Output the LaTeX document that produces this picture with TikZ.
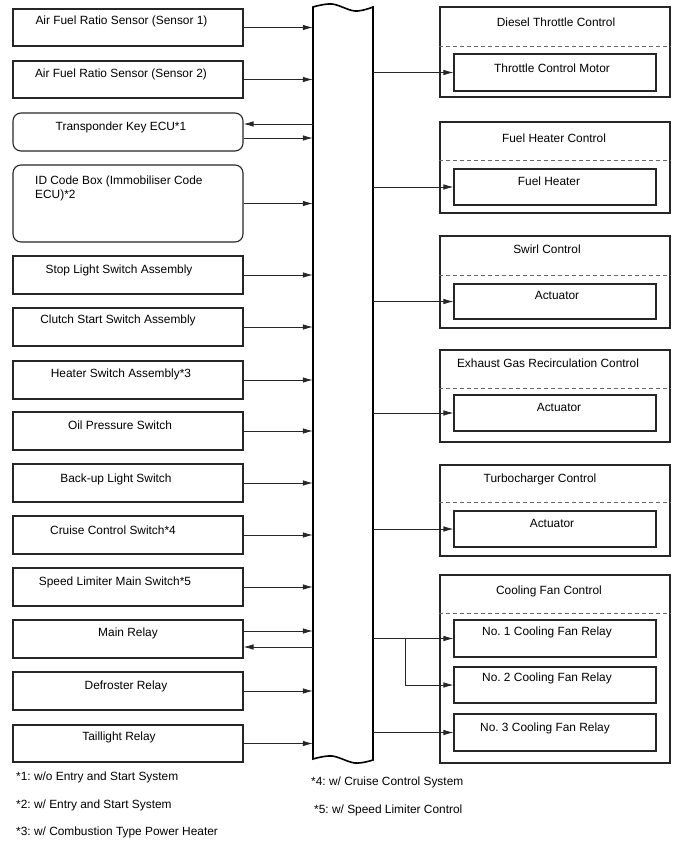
\documentclass[tikz,border=0pt]{standalone}
\usepackage{fontspec}
\setmainfont{Liberation Sans}
\frenchspacing
\usetikzlibrary{arrows.meta}
\begin{document}
\begin{tikzpicture}[x=1pt,y=-1pt,
  every node/.style={font=\fontsize{11.9}{13.6}\selectfont},
  box/.style={draw=black!85, line width=1.1pt, minimum width=230pt, inner sep=0pt, fill=white},
  rbox/.style={box, rounded corners=8pt},
  obox/.style={draw=black!85, line width=1.1pt, minimum width=230pt, inner sep=0pt},
  ibox/.style={draw=black!85, line width=1.1pt, minimum width=202pt, inner sep=0pt},
  lbl/.style={inner sep=0pt, anchor=center},
  conn/.style={line width=0.75pt, draw=black!85, -{Latex[length=10pt,width=5.5pt]}},
  sep/.style={draw=black!60, line width=0.9pt, dash pattern=on 4pt off 3pt},
  barline/.style={draw=black, line width=1.6pt, fill=white}
]
\useasboundingbox (0,0) rectangle (688,852);

% central bar
\node[minimum width=60pt, minimum height=753pt, inner sep=0pt, draw=none] (bar) at (343,383.5) {};
\draw[barline] plot[smooth, tension=0.6] coordinates {(373,7) (355,11) (332,4) (313,7)}
  -- (313,759) -- plot[smooth, tension=0.6] coordinates {(313,759) (332,756) (355,763) (373,760)} -- cycle;

% left boxes
\node[box, minimum height=37pt] (s1) at (128,27.5) {};
\node[box, minimum height=37pt] (s2) at (128,79.5) {};
\node[rbox, minimum height=38pt] (tk) at (128,132) {};
\node[rbox, minimum height=77pt] (id) at (128,203.5) {};
\node[box, minimum height=38pt] (sl) at (128,275) {};
\node[box, minimum height=38pt] (cs) at (128,327) {};
\node[box, minimum height=38pt] (hs) at (128,380) {};
\node[box, minimum height=38pt] (op) at (128,431) {};
\node[box, minimum height=38pt] (bl) at (128,483) {};
\node[box, minimum height=38pt] (cc) at (128,535) {};
\node[box, minimum height=38pt] (sp) at (128,587) {};
\node[box, minimum height=38pt] (mr) at (128,639) {};
\node[box, minimum height=38pt] (df) at (128,691) {};
\node[box, minimum height=37pt] (tl) at (128,743.5) {};

% left labels
\node[lbl] (s1t) at (121.5,21) {Air Fuel Ratio Sensor (Sensor 1)};
\node[lbl] (s2t) at (121,74) {Air Fuel Ratio Sensor (Sensor 2)};
\node[lbl] (tkt) at (121,127) {Transponder Key ECU*1};
\node[lbl, anchor=west, align=left] (idt) at (35,188.5) {ID Code Box (Immobiliser Code\\ECU)*2};
\node[lbl] (slt) at (119,270) {Stop Light Switch Assembly};
\node[lbl] (cst) at (118,320) {Clutch Start Switch Assembly};
\node[lbl] (hst) at (121,374) {Heater Switch Assembly*3};
\node[lbl] (opt) at (120,425) {Oil Pressure Switch};
\node[lbl] (blt) at (116,479) {Back-up Light Switch};
\node[lbl] (cct) at (113,530) {Cruise Control Switch*4};
\node[lbl] (spt) at (115,582) {Speed Limiter Main Switch*5};
\node[lbl] (mrt) at (128,633) {Main Relay};
\node[lbl] (dft) at (126,686) {Defroster Relay};
\node[lbl] (tlt) at (119,737) {Taillight Relay};

% left connectors
\foreach \n in {s1,s2,id,sl,cs,hs,op,bl,cc,sp,df,tl}
  \draw[conn] (\n.east) -- (\n.east -| bar.west);
\draw[conn] ([yshift=8pt]tk.east -| bar.west) -- ([yshift=8pt]tk.east);
\draw[conn] ([yshift=-6pt]tk.east) -- ([yshift=-6pt]tk.east -| bar.west);
\draw[conn] ([yshift=8pt]mr.east) -- ([yshift=8pt]mr.east -| bar.west);
\draw[conn] ([yshift=-8pt]mr.east -| bar.west) -- ([yshift=-8pt]mr.east);

% right groups
\node[obox, minimum height=90pt] (g1) at (555,52) {};
\node[obox, minimum height=91pt] (g2) at (555,167.5) {};
\node[obox, minimum height=92pt] (g3) at (555,282) {};
\node[obox, minimum height=92pt] (g4) at (555,396) {};
\node[obox, minimum height=91pt] (g5) at (555,510.5) {};
\node[obox, minimum height=188pt] (g6) at (555,669) {};

\draw[sep] (g1.west |- 0,46) -- (g1.east |- 0,46);
\draw[sep] (g2.west |- 0,160) -- (g2.east |- 0,160);
\draw[sep] (g3.west |- 0,275) -- (g3.east |- 0,275);
\draw[sep] (g4.west |- 0,388) -- (g4.east |- 0,388);
\draw[sep] (g5.west |- 0,502) -- (g5.east |- 0,502);
\draw[sep] (g6.west |- 0,613) -- (g6.east |- 0,613);

\node[lbl] (g1t) at (556,22) {Diesel Throttle Control};
\node[lbl] (g2t) at (554,138) {Fuel Heater Control};
\node[lbl] (g3t) at (547,249) {Swirl Control};
\node[lbl] (g4t) at (548,363) {Exhaust Gas Recirculation Control};
\node[lbl] (g5t) at (540,479) {Turbocharger Control};
\node[lbl] (g6t) at (549,591) {Cooling Fan Control};

% inner boxes
\node[ibox, minimum height=37pt] (a1) at (555,72.5) {};
\node[ibox, minimum height=36pt] (a2) at (555,187) {};
\node[ibox, minimum height=35pt] (a3) at (555,301.5) {};
\node[ibox, minimum height=36pt] (a4) at (555,413) {};
\node[ibox, minimum height=36pt] (a5) at (555,529) {};
\node[ibox, minimum height=37pt] (f1) at (555,638.5) {};
\node[ibox, minimum height=36pt] (f2) at (555,685) {};
\node[ibox, minimum height=37pt] (f3) at (555,732.5) {};

\node[lbl] (a1t) at (552,68) {Throttle Control Motor};
\node[lbl] (a2t) at (549,181) {Fuel Heater};
\node[lbl] (a3t) at (557,295) {Actuator};
\node[lbl] (a4t) at (559,407) {Actuator};
\node[lbl] (a5t) at (552,523) {Actuator};
\node[lbl] (f1t) at (547,632) {No. 1 Cooling Fan Relay};
\node[lbl] (f2t) at (547,678) {No. 2 Cooling Fan Relay};
\node[lbl] (f3t) at (545,728) {No. 3 Cooling Fan Relay};

% right connectors
\foreach \n in {a1,a2,a3,a4,a5,f1,f3}
  \draw[conn] (\n.west -| bar.east) -- (\n.west);
\coordinate (br) at (405,638.5);
\draw[conn] (br) |- (f2.west);

% footnotes
\node[lbl, anchor=west] (n1) at (16,777) {*1: w/o Entry and Start System};
\node[lbl, anchor=west] (n2) at (16,805) {*2: w/ Entry and Start System};
\node[lbl, anchor=west] (n3) at (16,832) {*3: w/ Combustion Type Power Heater};
\node[lbl, anchor=west] (n4) at (311,782) {*4: w/ Cruise Control System};
\node[lbl, anchor=west] (n5) at (314,810) {*5: w/ Speed Limiter Control};
\end{tikzpicture}
\end{document}
